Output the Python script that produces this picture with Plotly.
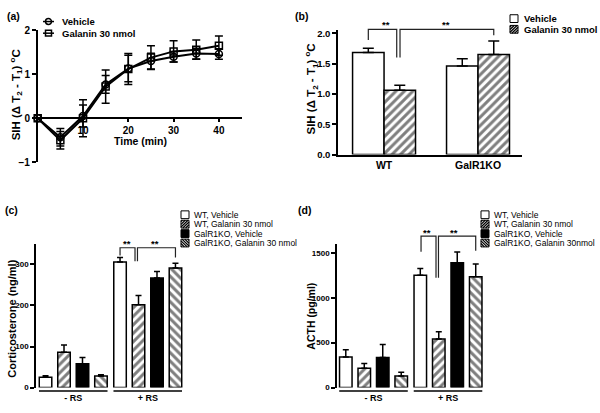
import plotly.graph_objects as go

W, H = 600, 413
FONT = "Liberation Sans"

# ---------------- data ----------------
# (a) time course of SIH
time_min = [0, 5, 10, 15, 20, 25, 30, 35, 40]
vehicle_sih = [0, -0.43, 0.05, 0.77, 1.13, 1.30, 1.40, 1.47, 1.46]
vehicle_sih_err = [0, 0.20, 0.25, 0.20, 0.30, 0.18, 0.12, 0.12, 0.12]
galanin_sih = [0, -0.50, 0.00, 0.72, 1.12, 1.38, 1.52, 1.56, 1.65]
galanin_sih_err = [0, 0.20, 0.42, 0.38, 0.35, 0.27, 0.24, 0.22, 0.22]
a_series = ["Vehicle", "Galanin 30 nmol"]

# (b) SIH by genotype
genotypes = ["WT", "GalR1KO"]
sih_vehicle = [1.68, 1.46]
sih_vehicle_err = [0.07, 0.12]
sih_galanin = [1.06, 1.65]
sih_galanin_err = [0.08, 0.22]
b_series = ["Vehicle", "Galanin 30 nmol"]

# (c) corticosterone, (d) ACTH
rs_groups = ["- RS", "+ RS"]
c_series = ["WT, Vehicle", "WT, Galanin 30 nmol", "GalR1KO, Vehicle", "GalR1KO, Galanin 30 nmol"]
d_series = ["WT, Vehicle", "WT, Galanin 30 nmol", "GalR1KO, Vehicle", "GalR1KO, Galanin 30nmol"]
cort_values = [[25, 306], [86, 202], [58, 267], [28, 291]]
cort_errors = [[4, 11], [18, 22], [15, 16], [3, 12]]
acth_values = [[340, 1250], [215, 540], [335, 1390], [130, 1235]]
acth_errors = [[80, 77], [52, 82], [145, 120], [40, 140]]

# ---------------- helpers ----------------
def fx(px):
    return px / W

def fy(py):
    return 1 - py / H

BAR_LINE = dict(color="black", width=1.5)
STYLES = [
    dict(color="white", pattern=None),
    dict(color="white", pattern="/"),
    dict(color="black", pattern=None),
    dict(color="white", pattern="\\"),
]

def marker_for(style):
    m = dict(color=style["color"], line=BAR_LINE)
    if style["pattern"]:
        m["pattern"] = dict(shape=style["pattern"], fgcolor="black", bgcolor="white",
                            size=6, solidity=0.5)
    return m

fig = go.Figure()
shapes = []
annotations = []

def text(px, py, s, size=9, bold=True, xanchor="left", yanchor="middle", angle=0, **kw):
    annotations.append(dict(
        x=kw.pop("x", fx(px)), y=kw.pop("y", fy(py)), xref=kw.pop("xref", "paper"),
        yref=kw.pop("yref", "paper"), text=s, showarrow=False,
        xanchor=xanchor, yanchor=yanchor, textangle=angle,
        font=dict(family=FONT, size=size, color="black", weight="bold" if bold else "normal"),
        **kw))

def legend_box(px, py, style, a=8):
    x0, y0 = px, py
    fill = style["color"]
    shapes.append(dict(type="rect", xref="paper", yref="paper",
                       x0=fx(x0), x1=fx(x0 + a), y0=fy(y0 + a), y1=fy(y0),
                       fillcolor=fill, line=dict(color="black", width=1)))
    if style["pattern"]:
        s = 2.8
        c = -a + s / 2
        while c < a:
            if c >= 0:
                p1 = (c, 0.0); p2 = (a, a - c)
            else:
                p1 = (0.0, -c); p2 = (a + c, a)
            pts = [p1, p2]
            if style["pattern"] == "\\":
                pts = [(a - p[0], p[1]) for p in pts]
            (lx1, ly1), (lx2, ly2) = pts
            shapes.append(dict(type="line", xref="paper", yref="paper",
                               x0=fx(x0 + lx1), y0=fy(y0 + a - ly1),
                               x1=fx(x0 + lx2), y1=fy(y0 + a - ly2),
                               line=dict(color="black", width=1.3)))
            c += s

# ---------------- panel (a) ----------------
for name, ys, es, sym in [(a_series[1], galanin_sih, galanin_sih_err, "square-open"),
                          (a_series[0], vehicle_sih, vehicle_sih_err, "circle-open")]:
    fig.add_trace(go.Scatter(
        x=time_min, y=ys, name=name, mode="lines+markers", xaxis="x", yaxis="y",
        line=dict(color="black", width=2),
        marker=dict(symbol=sym, size=7, color="black", line=dict(color="black", width=1.5)),
        error_y=dict(type="data", array=es, color="black", thickness=1.5, width=4),
        cliponaxis=False, showlegend=False))

for i, (name, sym) in enumerate(zip(a_series, ["circle", "square"])):
    yy = 16 + 12 * i
    shapes.append(dict(type="line", xref="paper", yref="paper", x0=fx(43), x1=fx(54),
                       y0=fy(yy), y1=fy(yy), line=dict(color="black", width=1.5)))
    shapes.append(dict(type=("circle" if sym == "circle" else "rect"), xref="paper", yref="paper",
                       x0=fx(45.5), x1=fx(51.5), y0=fy(yy + 3), y1=fy(yy - 3),
                       line=dict(color="black", width=1.5)))
    text(60, yy, name, size=9.5)

# ---------------- panel (b) ----------------
bw = 0.335
for name, ys, es, st, off in [(b_series[0], sih_vehicle, sih_vehicle_err, STYLES[0], -bw),
                              (b_series[1], sih_galanin, sih_galanin_err, STYLES[1], 0)]:
    fig.add_trace(go.Bar(
        x=genotypes, y=ys, name=name, xaxis="x2", yaxis="y2", offset=off, width=bw,
        marker=marker_for(st),
        error_y=dict(type="data", array=es, arrayminus=[0] * len(es), symmetric=False,
                     color="black", thickness=1.5, width=5.5),
        showlegend=False))

for i, (name, st) in enumerate(zip(b_series, [STYLES[0], STYLES[1]])):
    legend_box(510, 9 + 11 * i, st)
    text(522, 13 + 11 * i, name, size=9.5)

def bracket(xref, pts, ypix):
    path = ""
    for j, (xv, yp) in enumerate(zip(pts, ypix)):
        path += ("M" if j == 0 else "L") + f"{xv},{fy(yp)}"
    shapes.append(dict(type="path", xref=xref, yref="paper", path=path,
                       line=dict(color="#222222", width=1.2)))

bracket("x2", [-bw / 2, -bw / 2, 0.135, 0.135], [35, 24, 24, 53])
bracket("x2", [0.17, 0.17, 1 + bw / 2, 1 + bw / 2], [53, 24, 24, 30])
text(0, 19, "**", size=9.5, x=0.02, xref="x2", xanchor="center")
text(0, 19, "**", size=9.5, x=0.66, xref="x2", xanchor="center")

# ---------------- panels (c) and (d) ----------------
slot = 0.248
cw = 0.168
centers = [-1.5 * slot, -0.5 * slot, 0.5 * slot, 1.5 * slot]
for xa, ya, vals, errs, names in [("x3", "y3", cort_values, cort_errors, c_series),
                                   ("x4", "y4", acth_values, acth_errors, d_series)]:
    for k in range(4):
        fig.add_trace(go.Bar(
            x=rs_groups, y=vals[k], name=names[k], xaxis=xa, yaxis=ya,
            offset=centers[k] - cw / 2, width=cw, marker=marker_for(STYLES[k]),
            error_y=dict(type="data", array=errs[k], arrayminus=[0, 0], symmetric=False,
                         color="black", thickness=1.5, width=3),
            showlegend=False))
    for g in range(2):
        shapes.append(dict(type="line", xref=xa, yref="paper", x0=g - 0.46, x1=g + 0.46,
                           y0=fy(396.5), y1=fy(396.5), line=dict(color="black", width=1.5)))

for base_x, names in [(181, c_series), (481, d_series)]:
    for k in range(4):
        legend_box(base_x, 211 + 9.7 * k, STYLES[k])
        text(base_x + 11, 215 + 9.7 * k, names[k], size=8.5, bold=False)

bracket("x3", [1 + centers[0], 1 + centers[0], 0.829, 0.829], [257, 249, 249, 263])
bracket("x3", [0.862, 0.862, 1 + centers[3], 1 + centers[3]], [263, 249, 249, 259])
text(0, 245, "**", size=9.5, x=0.724, xref="x3", xanchor="center")
text(0, 245, "**", size=9.5, x=1.097, xref="x3", xanchor="center")
bracket("x4", [1 + centers[0] + 0.01, 1 + centers[0] + 0.01, 0.839, 0.839], [253, 237, 237, 280])
bracket("x4", [0.872, 0.872, 1 + centers[3], 1 + centers[3]], [280, 237, 237, 252])
text(0, 233, "**", size=9.5, x=0.718, xref="x4", xanchor="center")
text(0, 233, "**", size=9.5, x=1.08, xref="x4", xanchor="center")

# ---------------- titles and panel labels ----------------
text(5, 10, "(a)", size=10.5)
text(293, 10, "(b)", size=10.5)
text(3, 210, "(c)", size=10.5)
text(296, 210, "(d)", size=10.5)

sih_title = "SIH (Δ T<sub>2</sub> - T<sub>1</sub>) <sup>o</sup>C"
text(16, 92, sih_title, size=11.5, xanchor="center", angle=-90)
text(140, 139, "Time (min)", size=10.5, xanchor="center")
text(311, 86, sih_title, size=11.5, xanchor="center", angle=-90)
text(12, 322, "Corticosterone (ng/ml)", size=11, xanchor="center", angle=-90)
text(311, 320, "ACTH (pg/ml)", size=10.5, xanchor="center", angle=-90)

# ---------------- axes ----------------
def axstyle(**kw):
    d = dict(showgrid=False, zeroline=False, showline=True, linecolor="black", linewidth=1.5,
             ticks="outside", ticklen=4, tickwidth=1.5, tickcolor="black",
             tickfont=dict(family=FONT, size=9.5, color="black", weight="bold"))
    d.update(kw)
    return d

fig.update_layout(
    width=W, height=H, margin=dict(l=0, r=0, t=0, b=0),
    paper_bgcolor="white", plot_bgcolor="white", showlegend=False,
    barmode="overlay",
    xaxis=axstyle(domain=[fx(37.7), fx(242)], range=[0, 45.1], anchor="free", position=fy(115.7),
                  tickvals=[10, 20, 30, 40], ticklen=3,
                  tickfont=dict(family=FONT, size=10, color="black", weight="bold")),
    yaxis=axstyle(domain=[fy(161), fy(25)], range=[-1, 2], anchor="x", tickvals=[-1, 0, 1, 2],
                  tickfont=dict(family=FONT, size=10, color="black", weight="bold")),
    xaxis2=axstyle(domain=[fx(338), fx(522)], range=[-0.49, 1.468], anchor="y2", ticks="",
                   type="category",
                   tickfont=dict(family=FONT, size=10.5, color="black", weight="bold")),
    yaxis2=axstyle(domain=[fy(153), fy(25)], range=[0, 2.048], anchor="x2",
                   tickvals=[0, 0.5, 1.0, 1.5, 2.0], tickformat=".1f"),
    xaxis3=axstyle(domain=[fx(36), fx(185)], range=[-0.5, 1.5], anchor="y3", showline=False,
                   ticks="", type="category", ticklabelstandoff=3,
                   tickfont=dict(family=FONT, size=9, color="black", weight="bold")),
    yaxis3=axstyle(domain=[fy(393), fy(245)], range=[0, 350], anchor="x3",
                   tickvals=[0, 100, 200, 300],
                   tickfont=dict(family=FONT, size=8, color="black", weight="bold")),
    xaxis4=axstyle(domain=[fx(337), fx(486)], range=[-0.49, 1.51], anchor="y4", showline=False,
                   ticks="", type="category", ticklabelstandoff=3,
                   tickfont=dict(family=FONT, size=9, color="black", weight="bold")),
    yaxis4=axstyle(domain=[fy(393), fy(245)], range=[0, 1600], anchor="x4",
                   tickvals=[0, 500, 1000, 1500],
                   tickfont=dict(family=FONT, size=8, color="black", weight="bold")),
    shapes=shapes, annotations=annotations,
)

fig.write_html("out.html", config={"displayModeBar": False},
               post_script="document.body.style.margin='0';document.body.style.overflow='hidden';")
